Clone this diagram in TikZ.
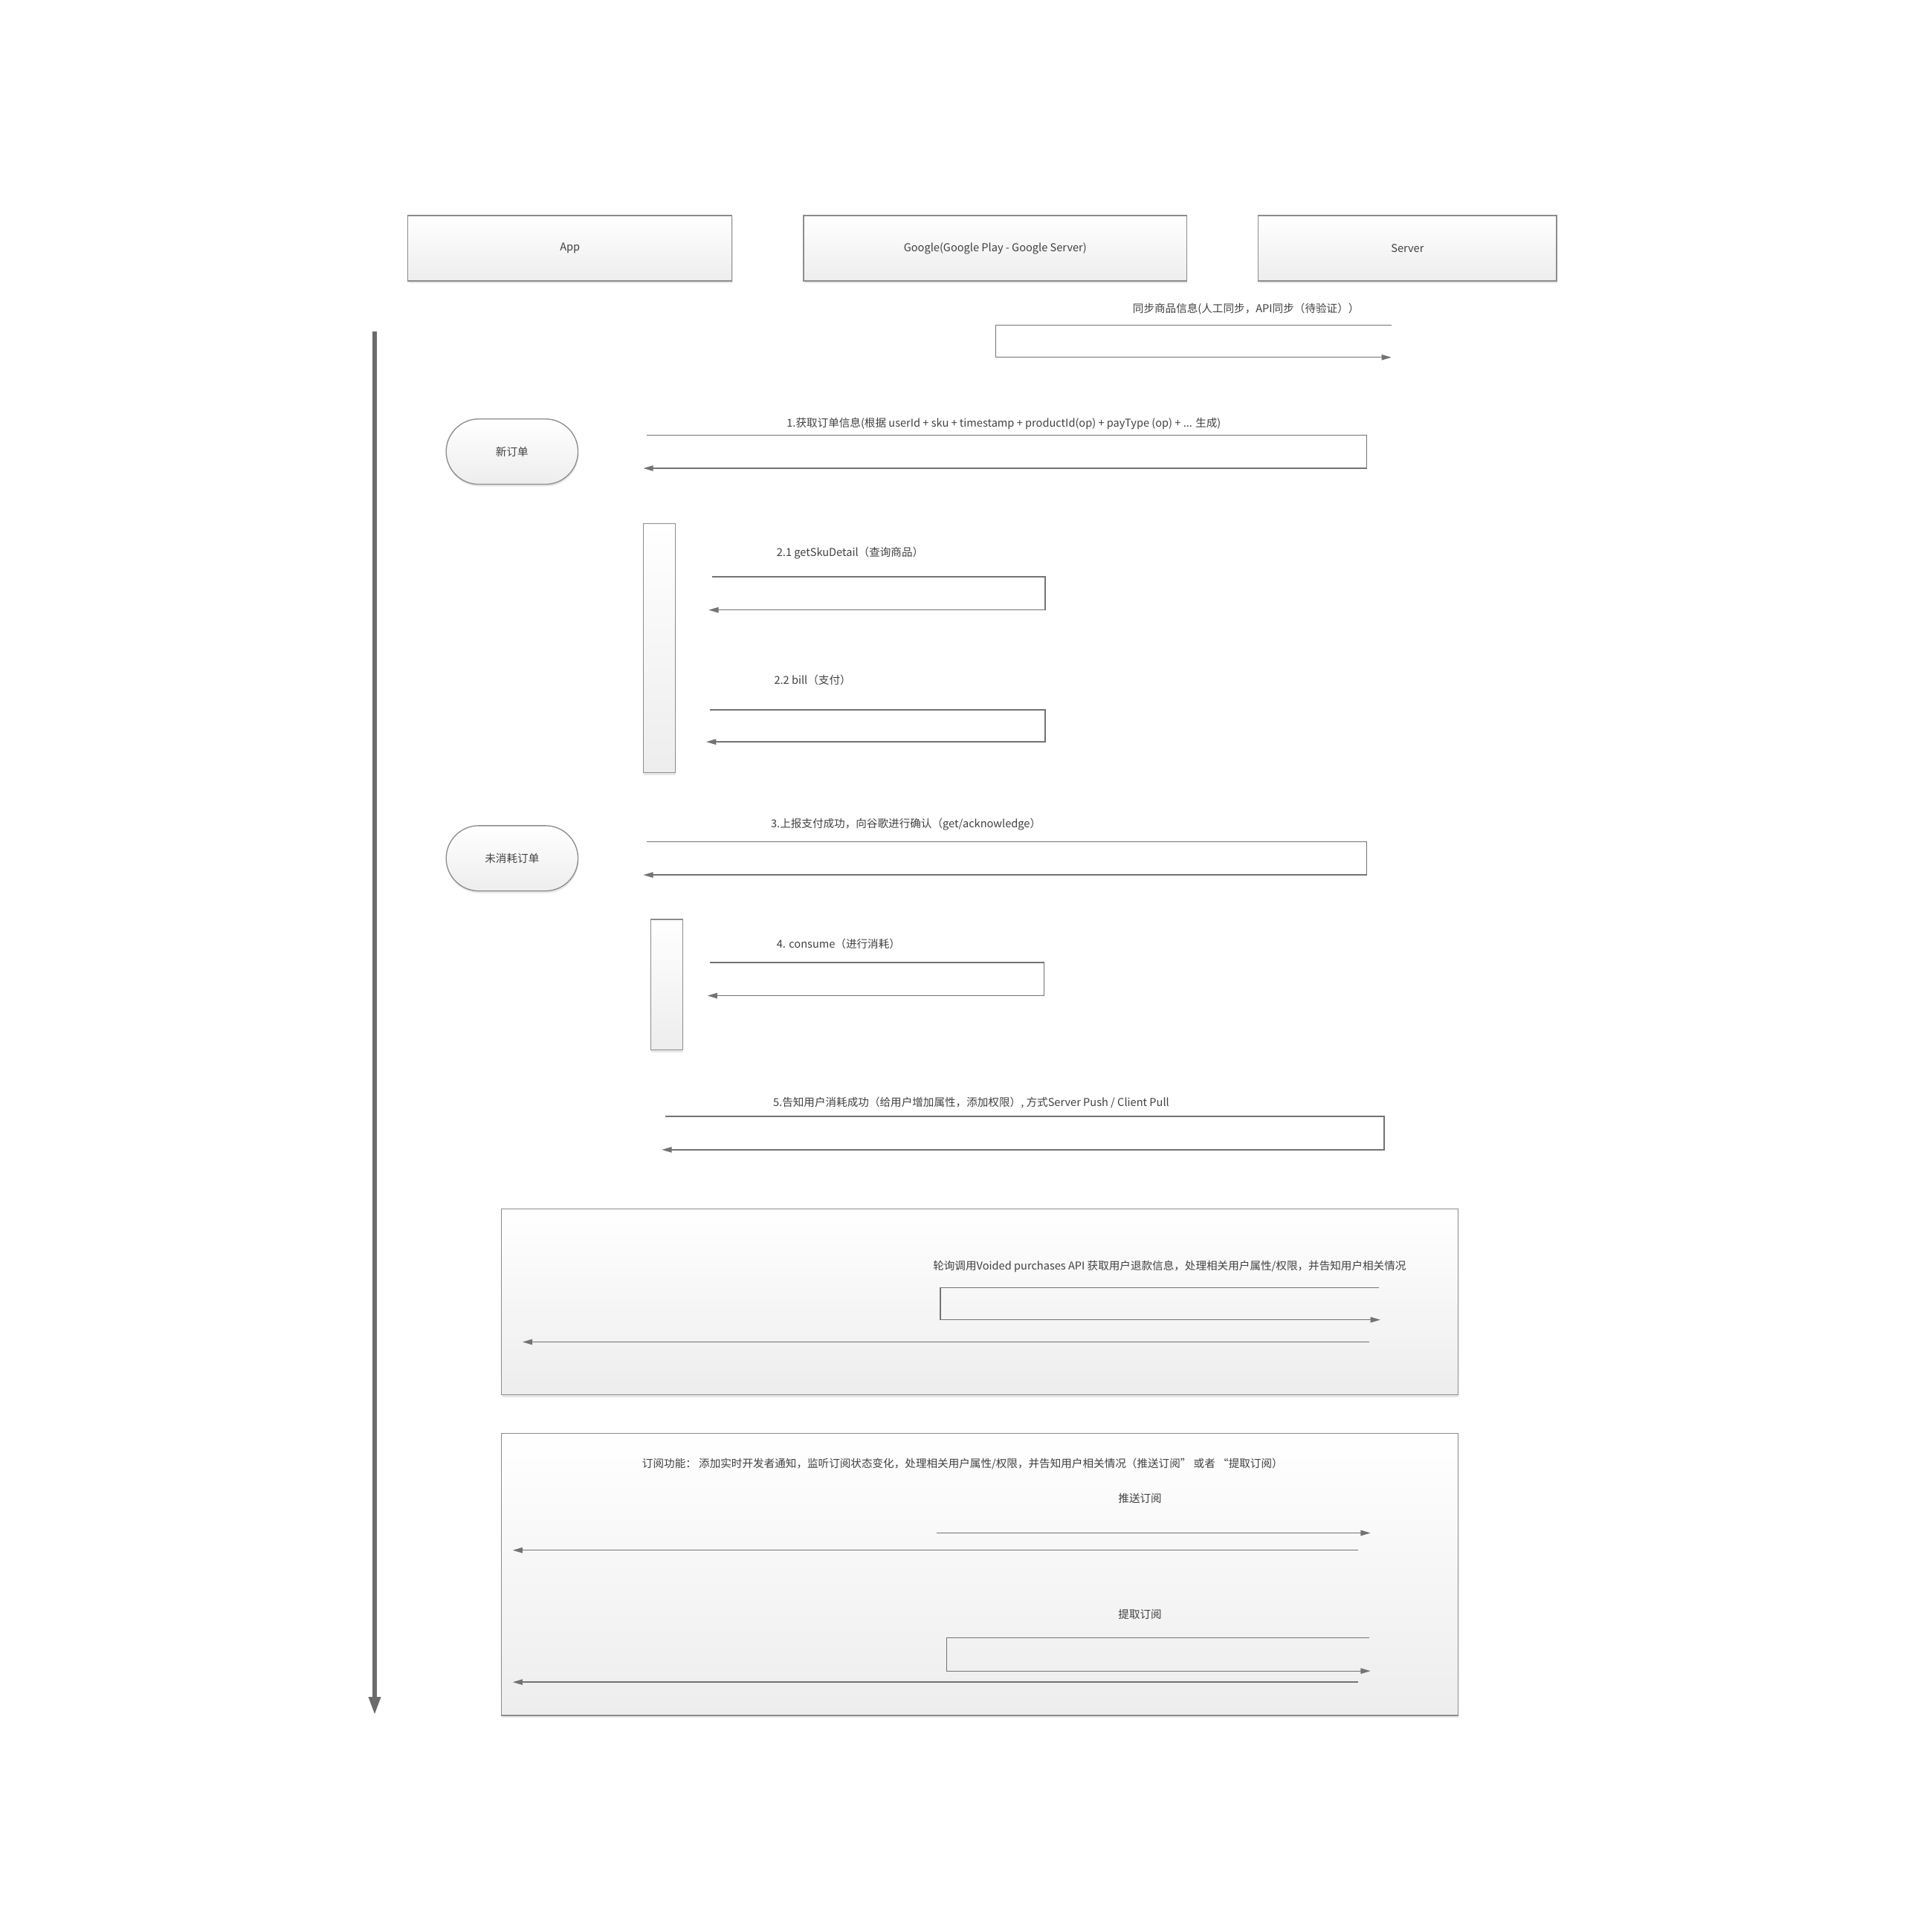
\documentclass[tikz,border=0pt]{standalone}
\usepackage{fontspec}
\setmainfont{Noto Sans CJK SC}
\usetikzlibrary{arrows.meta,shadows,shapes.misc}
\begin{document}
\begin{tikzpicture}[x=1pt,y=-1pt,font=\fontsize{8.8}{10}\selectfont,
  box/.style={draw=black!45,line width=0.8pt,top color=white,bottom color=black!7,inner sep=0pt,text=black!75,
    drop shadow={shadow xshift=0.5pt,shadow yshift=-1.8pt,fill=black!18}},
  oval/.style={box,rounded rectangle,minimum width=107pt,minimum height=53pt},
  msg/.style={draw=black!55,line width=0.8pt,-{Triangle[length=8pt,width=4.5pt]}},
  lbl/.style={text=black!75,inner sep=0pt}]
\useasboundingbox (0,0) rectangle (1567,1567);
\node[box,minimum width=263pt,minimum height=53pt] (app) at (462.5,201.5) {App};
\node[box,minimum width=311pt,minimum height=53pt] (google) at (807.5,201.5) {Google(Google Play - Google Server)};
\node[box,minimum width=242pt,minimum height=53pt] (server) at (1142,201.5) {Server};
\coordinate (ttop) at (304,269);
\coordinate (tbot) at (304,1392);
\draw[line width=4pt,draw=black!58,-{Triangle[length=15pt,width=9pt]}] (ttop) -- (tbot);
\node[lbl] (sync) at (1011,251) {同步商品信息(人工同步，API同步（待验证））};
\coordinate (s0) at (1129,264);
\coordinate (s1) at (1129,290);
\draw[msg] (s0) -- (808,264) |- (s1);
\node[oval] (neworder) at (415.5,366.5) {新订单};
\node[lbl] (m1) at (814.5,344) {1.获取订单信息(根据 userId + sku + timestamp + productId(op) + payType (op) + ... 生成)};
\coordinate (m1a) at (525,353);
\coordinate (m1b) at (522,380);
\draw[msg] (m1a) -- (1109,353) |- (m1b);
\node[box,minimum width=26pt,minimum height=202pt] (act1) at (535,526) {};
\node[lbl,anchor=west] (m21) at (630,449) {2.1 getSkuDetail（查询商品）};
\coordinate (m21a) at (578,468);
\coordinate (m21b) at (575,495);
\draw[msg] (m21a) -- (848,468) |- (m21b);
\node[lbl,anchor=west] (m22) at (628,552) {2.2 bill（支付）};
\coordinate (m22a) at (576,576);
\coordinate (m22b) at (573,602);
\draw[msg] (m22a) -- (848,576) |- (m22b);
\node[oval] (unconsumed) at (415.5,696.5) {未消耗订单};
\node[lbl] (m3) at (735,669) {3.上报支付成功，向谷歌进行确认（get/acknowledge）};
\coordinate (m3a) at (525,683);
\coordinate (m3b) at (522,710);
\draw[msg] (m3a) -- (1109,683) |- (m3b);
\node[box,minimum width=26pt,minimum height=106pt] (act2) at (541,799) {};
\node[lbl,anchor=west] (m4) at (630,766) {4. consume（进行消耗）};
\coordinate (m4a) at (576,781);
\coordinate (m4b) at (574,808);
\draw[msg] (m4a) -- (847,781) |- (m4b);
\node[lbl] (m5) at (788,895) {5.告知用户消耗成功（给用户增加属性，添加权限）, 方式Server Push / Client Pull};
\coordinate (m5a) at (540,906);
\coordinate (m5b) at (537,933);
\draw[msg] (m5a) -- (1123,906) |- (m5b);
\node[box,minimum width=776pt,minimum height=151pt] (voided) at (795,1056.5) {};
\node[lbl] (v1) at (949,1028) {轮询调用Voided purchases API 获取用户退款信息，处理相关用户属性/权限，并告知用户相关情况};
\coordinate (v1a) at (1119,1045);
\coordinate (v1b) at (1120,1071);
\draw[msg] (v1a) -- (763,1045) |- (v1b);
\coordinate (v2a) at (1111,1089);
\coordinate (v2b) at (424,1089);
\draw[msg] (v2a) -- (v2b);
\node[box,minimum width=776pt,minimum height=229pt] (subscribe) at (795,1277.5) {};
\node[lbl] (sub) at (781,1188) {订阅功能：\ 添加实时开发者通知，监听订阅状态变化，处理相关用户属性/权限，并告知用户相关情况（推送订阅”\ 或者 “提取订阅）};
\node[lbl] (push) at (925,1216) {推送订阅};
\coordinate (p1a) at (760,1244);
\coordinate (p1b) at (1112,1244);
\draw[msg] (p1a) -- (p1b);
\coordinate (p2a) at (1102,1258);
\coordinate (p2b) at (416,1258);
\draw[msg] (p2a) -- (p2b);
\node[lbl] (pull) at (925,1310) {提取订阅};
\coordinate (q1a) at (1111,1329);
\coordinate (q1b) at (1112,1356);
\draw[msg] (q1a) -- (768,1329) |- (q1b);
\coordinate (q2a) at (1102,1365);
\coordinate (q2b) at (416,1365);
\draw[msg] (q2a) -- (q2b);
\end{tikzpicture}
\end{document}
